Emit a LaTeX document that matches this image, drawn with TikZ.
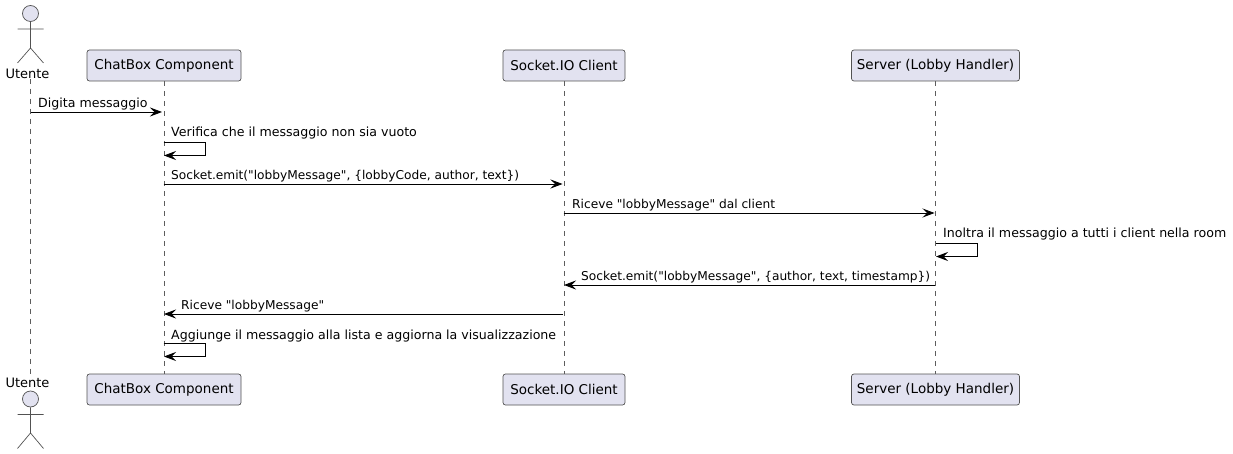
\documentclass[tikz,border=0pt]{standalone}
\usepackage{fontspec}
\setmainfont{DejaVu Sans}[Ligatures=TeXOff]
\usetikzlibrary{arrows.meta}
\definecolor{boxfill}{HTML}{E2E2F0}
\definecolor{linegray}{HTML}{181818}
\tikzset{
  part/.style={draw=linegray!75,fill=boxfill,rounded corners=2.5pt,line width=0.7pt,minimum height=31pt,inner sep=0pt,font=\fontsize{13.5}{16}\selectfont},
  actorname/.style={inner sep=0pt,font=\fontsize{13}{16}\selectfont},
  actorhead/.style={draw=linegray!75,fill=boxfill,circle,line width=0.7pt,minimum size=16pt,inner sep=0pt},
  lifeline/.style={draw=linegray!70,line width=0.6pt,dash pattern=on 5pt off 5pt},
  msg/.style={->,draw=black,line width=0.8pt},
  txt/.style={anchor=base west,inner sep=0pt,font=\fontsize{12.6}{14}\selectfont},
  txtcode/.style={txt,font=\fontsize{12.2}{14}\selectfont},
  actorpart/.style={draw=linegray!75,line width=0.7pt},
}
\begin{document}
\begin{tikzpicture}[x=1pt,y=-1pt,>={Stealth[length=12pt,width=9pt,inset=4.5pt]}]
  \useasboundingbox (0,0) rectangle (1233,454);

  % Participantes
  \node[part,minimum width=154pt] (chatTop) at (164,65.5) {ChatBox Component};
  \node[part,minimum width=122pt] (sockTop) at (564,65.5) {Socket.IO Client};
  \node[part,minimum width=168pt] (servTop) at (935.5,65.5) {Server (Lobby Handler)};
  \node[part,minimum width=154pt] (chatBot) at (164,389.5) {ChatBox Component};
  \node[part,minimum width=122pt] (sockBot) at (564,389.5) {Socket.IO Client};
  \node[part,minimum width=168pt] (servBot) at (935.5,389.5) {Server (Lobby Handler)};
  \node[actorname] (userTop) at (27.5,73.5) {Utente};
  \node[actorname] (userBot) at (27.5,383) {Utente};

  % Actores
  \node[actorhead] (headTop) at (30.5,13.5) {};
  \node[actorhead] (headBot) at (30.5,399) {};
  \draw[actorpart] (headTop) -- (30.5,48) (17.5,29) -- (43.5,29)
    (17.5,63) -- (30.5,48) -- (43.5,63);
  \draw[actorpart] (headBot) -- (30.5,433) (17.5,414.5) -- (43.5,414.5)
    (17.5,448.5) -- (30.5,433) -- (43.5,448.5);

  % Lineas de vida
  \draw[lifeline] (headTop |- userTop.south) -- (headBot |- userBot.north);
  \draw[lifeline] (chatTop) -- (chatBot);
  \draw[lifeline] (sockTop) -- (sockBot);
  \draw[lifeline] (servTop) -- (servBot);

  % Puntos de los mensajes
  \coordinate (u1) at (30.5,112);
  \coordinate (c1) at (162,112);
  \coordinate (c2) at (163.5,142);
  \coordinate (c2b) at (205.5,142);
  \coordinate (c2c) at (205.5,155.5);
  \coordinate (c2d) at (164,155.5);
  \coordinate (c3) at (163.5,184);
  \coordinate (s3) at (562.5,184);
  \coordinate (s4) at (563.5,213);
  \coordinate (v4) at (934.5,213);
  \coordinate (v5) at (935.5,243);
  \coordinate (v5b) at (977.5,243);
  \coordinate (v5c) at (977.5,256.5);
  \coordinate (v5d) at (936,256.5);
  \coordinate (v6) at (935,285);
  \coordinate (s6) at (564,285);
  \coordinate (s7) at (563,314);
  \coordinate (c7) at (164,314);
  \coordinate (c8) at (163.5,343);
  \coordinate (c8b) at (205.5,343);
  \coordinate (c8c) at (205.5,356.5);
  \coordinate (c8d) at (164,356.5);

  % Mensajes
  \draw[msg] (u1) -- (c1);
  \draw[msg] (c2) -- (c2b) -- (c2c) -- (c2d);
  \draw[msg] (c3) -- (s3);
  \draw[msg] (s4) -- (v4);
  \draw[msg] (v5) -- (v5b) -- (v5c) -- (v5d);
  \draw[msg] (v6) -- (s6);
  \draw[msg] (s7) -- (c7);
  \draw[msg] (c8) -- (c8b) -- (c8c) -- (c8d);

  % Textos
  \node[txt] (t1) at (38,107.5) {Digita messaggio};
  \node[txt] (t2) at (171,137) {Verifica che il messaggio non sia vuoto};
  \node[txtcode] (t3) at (171,179.5) {Socket.emit("lobbyMessage", \{lobbyCode, author, text\})};
  \node[txtcode] (t4) at (572,208.5) {Riceve "lobbyMessage" dal client};
  \node[txt] (t5) at (943,238) {Inoltra il messaggio a tutti i client nella room};
  \node[txtcode] (t6) at (581,280.5) {Socket.emit("lobbyMessage", \{author, text, timestamp\})};
  \node[txtcode] (t7) at (181,309.5) {Riceve "lobbyMessage"};
  \node[txt] (t8) at (171,339) {Aggiunge il messaggio alla lista e aggiorna la visualizzazione};
\end{tikzpicture}
\end{document}
